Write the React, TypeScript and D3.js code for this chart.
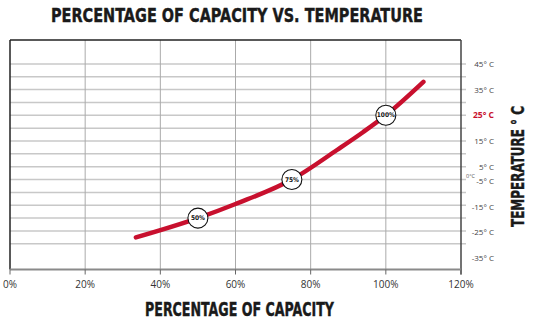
import React from "react";
import * as d3 from "d3";

// ---- data ----
const capacityPct = [33.5, 50, 60, 75, 87, 94, 100, 110];
const temperatureC = [-22.5, -15, -9.5, 0, 11.5, 18.5, 25, 38];
const markerPct = [50, 75, 100];
const markerTemp = [-15, 0, 25];
const markerLabels = ["50%", "75%", "100%"];
const xTicks = [0, 20, 40, 60, 80, 100, 120];
const gridTemps = [45, 40, 35, 30, 25, 20, 15, 10, 5, 0, -5, -10, -15, -20, -25];
const tempLabels = [45, 35, 25, 15, 5, -5, -15, -25, -35];
const highlightTemp = 25;

const W = 533;
const H = 326;
const left = 10;
const right = 461;
const top = 40;
const bottom = 269.5;

export default function App() {
  const x = d3.scaleLinear().domain([0, 120]).range([left, right]);
  const y = d3.scaleLinear().domain([-35, 54.3]).range([bottom, top]);

  const pts: [number, number][] = capacityPct.map((c, i) => [c, temperatureC[i]]);
  const line = d3
    .line<[number, number]>()
    .x((d) => x(d[0]))
    .y((d) => y(d[1]))
    .curve(d3.curveMonotoneX);

  const labelY = (t: number) => (t > 0 ? y(t) : y(t + 5) + 1.5);
  const red = "#c8102e";
  const cond = "'Liberation Sans Narrow', 'DejaVu Sans Condensed', 'Roboto Condensed', sans-serif";
  const body = "'Open Sans', 'Noto Sans', sans-serif";

  return (
    <svg
      width={W}
      height={H}
      style={{ position: "absolute", left: 0, top: 0, background: "#fff" }}
    >
      <rect x={0} y={0} width={W} height={H} fill="#fff" />
      {/* title */}
      <text
        x={237}
        y={22}
        textAnchor="middle"
        fontFamily={cond}
        fontWeight="bold"
        fontSize={19.5}
        fill="#1a1a1a"
        textLength={372}
        lengthAdjust="spacingAndGlyphs"
        stroke="#1a1a1a"
        strokeWidth={0.4}
      >
        PERCENTAGE OF CAPACITY VS. TEMPERATURE
      </text>

      {/* horizontal grid */}
      {gridTemps.map((t) => (
        <line
          key={"h" + t}
          x1={left}
          x2={right + 5}
          y1={y(t)}
          y2={y(t)}
          stroke="#c8c8c8"
          strokeWidth={1.5}
        />
      ))}
      {/* vertical grid */}
      {xTicks.slice(1, -1).map((v) => (
        <line
          key={"v" + v}
          x1={x(v)}
          x2={x(v)}
          y1={top}
          y2={bottom}
          stroke="#aaa"
          strokeWidth={1}
        />
      ))}
      {/* borders */}
      <line x1={left} x2={right} y1={top} y2={top} stroke="#222" strokeWidth={1.5} />
      <line x1={left} x2={left} y1={top} y2={bottom} stroke="#222" strokeWidth={1.5} />
      <line x1={right} x2={right} y1={top} y2={bottom + 5} stroke="#444" strokeWidth={1.5} />
      <line x1={left} x2={right} y1={bottom} y2={bottom} stroke="#8a8a8a" strokeWidth={2} />
      {xTicks.map((v) => (
        <line
          key={"t" + v}
          x1={x(v)}
          x2={x(v)}
          y1={bottom}
          y2={bottom + 5}
          stroke="#666"
          strokeWidth={1}
        />
      ))}

      {/* x tick labels */}
      {xTicks.map((v) => (
        <text
          key={"xl" + v}
          x={x(v)}
          y={288}
          textAnchor="middle"
          fontFamily={body}
          fontSize={10}
          fill="#333"
        >
          {v}%
        </text>
      ))}

      {/* right temperature labels */}
      {tempLabels.map((t) => (
        <text
          key={"yl" + t}
          x={494}
          y={labelY(t) + 3}
          textAnchor="end"
          fontFamily={body}
          fontSize={t === highlightTemp ? 8.5 : 8}
          fontWeight={t === highlightTemp ? "bold" : "normal"}
          fill={t === highlightTemp ? red : "#444"}
        >
          {t}° C
        </text>
      ))}
      <text x={466} y={y(0) - 2} fontFamily={body} fontSize={5.5} fill="#555">
        0°C
      </text>

      {/* curve */}
      <path
        d={line(pts) || ""}
        fill="none"
        stroke={red}
        strokeWidth={4.5}
        strokeLinecap="round"
      />
      {markerPct.map((p, i) => (
        <g key={"m" + p} transform={`translate(${x(p)},${y(markerTemp[i])})`}>
          <circle r={10} fill="#fff" stroke="#111" strokeWidth={1.1} />
          <text
            y={2}
            textAnchor="middle"
            fontFamily={cond}
            fontWeight="bold"
            fontSize={6.5}
            fill="#111"
          >
            {markerLabels[i]}
          </text>
        </g>
      ))}

      {/* axis titles */}
      <text
        x={239.5}
        y={316}
        textAnchor="middle"
        fontFamily={cond}
        fontWeight="bold"
        fontSize={19}
        fill="#1a1a1a"
        textLength={189}
        lengthAdjust="spacingAndGlyphs"
        stroke="#1a1a1a"
        strokeWidth={0.4}
      >
        PERCENTAGE OF CAPACITY
      </text>
      <text
        transform="translate(524,166.5) rotate(-90)"
        textAnchor="middle"
        fontFamily={cond}
        fontWeight="bold"
        fontSize={18.5}
        fill="#1a1a1a"
        textLength={121}
        lengthAdjust="spacingAndGlyphs"
        stroke="#1a1a1a"
        strokeWidth={0.4}
      >
        TEMPERATURE ° C
      </text>
    </svg>
  );
}
